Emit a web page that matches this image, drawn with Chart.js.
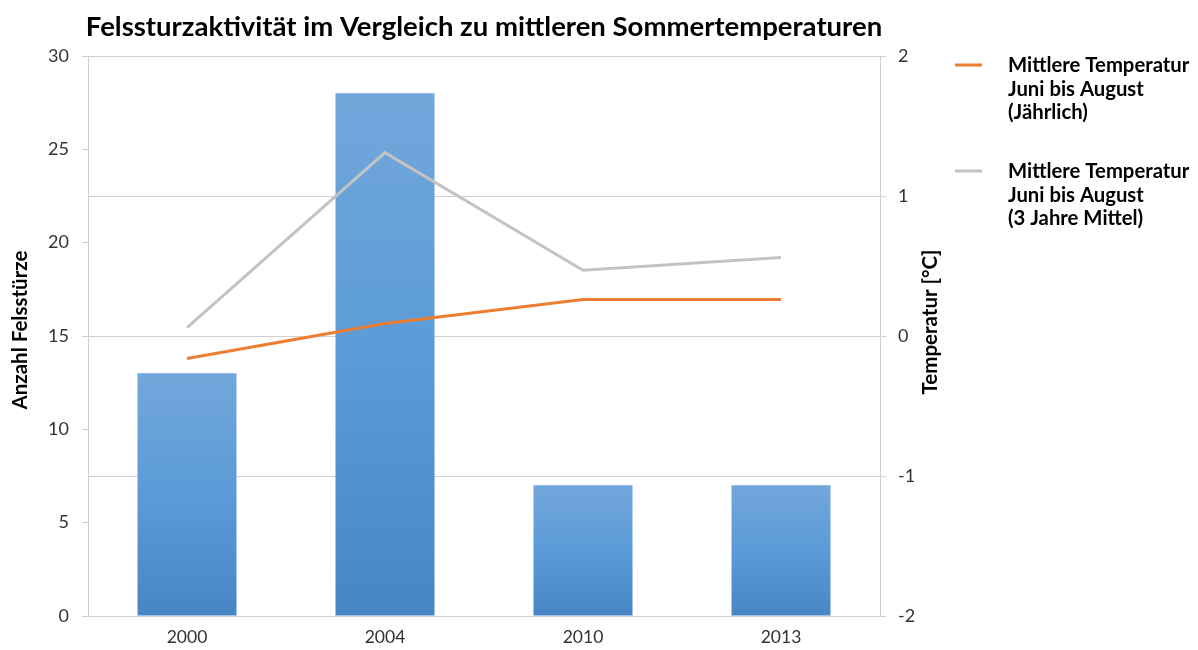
<!DOCTYPE html>
<html>
<head>
<meta charset="utf-8">
<script src="https://cdn.jsdelivr.net/npm/chart.js@4/dist/chart.umd.min.js"></script>
<style>
html,body{margin:0;padding:0;background:#fff;}
#wrap{width:1198px;height:650px;position:relative;}
</style>
</head>
<body>
<div id="wrap"><canvas id="c" width="1198" height="650"></canvas></div>
<script>
const titleText = 'Felssturzaktivität im Vergleich zu mittleren Sommertemperaturen';
const years = ['2000', '2004', '2010', '2013'];
const rockfalls = [13, 28, 7, 7];
const tempYearly = [-0.16, 0.09, 0.26, 0.26];
const tempMean3 = [0.06, 1.31, 0.47, 0.56];
const leftAxisTitle = 'Anzahl Felsstürze';
const rightAxisTitle = 'Temperatur [°C]';
const legendYearly = ['Mittlere Temperatur', 'Juni bis August', '(Jährlich)'];
const legendMean3 = ['Mittlere Temperatur', 'Juni bis August', '(3 Jahre Mittel)'];

const FONT = 'Lato, "Open Sans", sans-serif';
const ORANGE = '#ED7D31';
const GREY = '#C3C3C3';
const GRID = '#D0D0D0';

const extras = {
  id: 'extras',
  afterDraw(chart) {
    const ctx = chart.ctx;
    const ca = chart.chartArea;
    ctx.save();
    // title
    ctx.fillStyle = '#000';
    ctx.font = 'bold 27.5px ' + FONT;
    ctx.textAlign = 'center';
    ctx.textBaseline = 'alphabetic';
    ctx.fillText(titleText, (ca.left + ca.right) / 2, 36);
    // axis titles
    ctx.font = 'bold 20.5px ' + FONT;
    ctx.textBaseline = 'middle';
    ctx.save();
    ctx.translate(20, 330);
    ctx.rotate(-Math.PI / 2);
    ctx.fillText(leftAxisTitle, 0, 0);
    ctx.restore();
    ctx.save();
    ctx.translate(930, 322);
    ctx.rotate(-Math.PI / 2);
    ctx.fillText(rightAxisTitle, 0, 0);
    ctx.restore();
    // legend
    const drawEntry = (lines, color, y0) => {
      ctx.strokeStyle = color;
      ctx.lineWidth = 3;
      ctx.beginPath();
      ctx.moveTo(955, y0 - 7);
      ctx.lineTo(982, y0 - 7);
      ctx.stroke();
      ctx.fillStyle = '#000';
      ctx.font = 'bold 20.3px ' + FONT;
      ctx.textAlign = 'left';
      ctx.textBaseline = 'alphabetic';
      lines.forEach((t, i) => ctx.fillText(t, 1008, y0 + i * 23.5));
    };
    drawEntry(legendYearly, ORANGE, 72);
    drawEntry(legendMean3, GREY, 178);
    ctx.restore();
  }
};

const barGradient = (c) => {
  const chart = c.chart;
  const sc = chart.scales && chart.scales.y;
  if (!chart.chartArea || !sc || c.type !== 'data') return '#5B9BD5';
  const top = sc.getPixelForValue(c.raw);
  const bottom = sc.getPixelForValue(0);
  const g = chart.ctx.createLinearGradient(0, top, 0, bottom);
  g.addColorStop(0, '#72A7DB');
  g.addColorStop(0.5, '#5B9BD8');
  g.addColorStop(1, '#4686C6');
  return g;
};

new Chart(document.getElementById('c'), {
  type: 'bar',
  data: {
    labels: years,
    datasets: [
      { type: 'line', label: legendYearly.join(' '), data: tempYearly, yAxisID: 'y1',
        borderColor: ORANGE, borderWidth: 3, pointRadius: 0, tension: 0, order: 0, fill: false },
      { type: 'line', label: legendMean3.join(' '), data: tempMean3, yAxisID: 'y1',
        borderColor: GREY, borderWidth: 3, pointRadius: 0, tension: 0, order: 1, fill: false },
      { type: 'bar', label: leftAxisTitle, data: rockfalls, yAxisID: 'y',
        backgroundColor: barGradient, borderWidth: 0, order: 2,
        barPercentage: 0.5, categoryPercentage: 1.0 }
    ]
  },
  options: {
    responsive: false,
    animation: false,
    layout: { padding: { top: 56, left: 0, right: 0, bottom: 0 } },
    plugins: { legend: { display: false }, title: { display: false }, tooltip: { enabled: false } },
    scales: {
      x: {
        grid: { display: false, drawTicks: false },
        border: { display: false },
        ticks: { color: '#333', font: { family: FONT, size: 17.5 }, padding: 11 },
        afterFit: s => { s.height = 34; }
      },
      y: {
        position: 'left', min: 0, max: 30,
        ticks: { stepSize: 5, color: '#333', font: { family: FONT, size: 18 }, padding: 13 },
        grid: { display: true, drawOnChartArea: false, drawTicks: true, tickLength: 6, color: GRID },
        border: { display: true, color: GRID },
        afterFit: s => { s.width = 88; }
      },
      y1: {
        position: 'right', min: -2, max: 2,
        ticks: { stepSize: 1, color: '#333', font: { family: FONT, size: 18 }, padding: 12 },
        grid: { display: true, drawOnChartArea: true, drawTicks: true, tickLength: 6, color: GRID },
        border: { display: true, color: GRID },
        afterFit: s => { s.width = 318; }
      }
    }
  },
  plugins: [extras]
});
</script>
</body>
</html>
